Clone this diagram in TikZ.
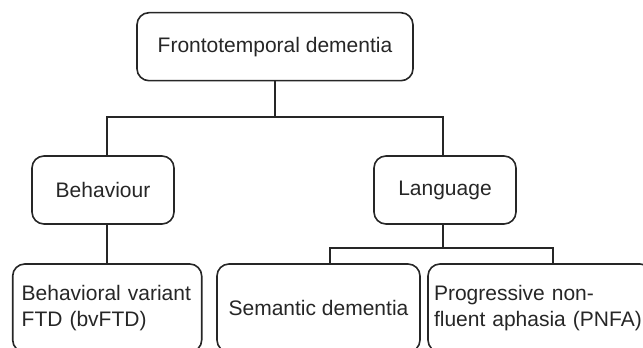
\documentclass[tikz,border=0pt]{standalone}
\usepackage{fontspec}
\setmainfont{Liberation Sans}
\begin{document}
\begin{tikzpicture}[x=1pt,y=1pt,
		bx/.style={draw=black!85,text=black!85,line width=1.6pt,rounded corners=12pt,inner sep=9pt,font=\fontsize{21}{26}\selectfont},
		ln/.style={draw=black!85,line width=1.6pt}]
	\useasboundingbox (0,0) rectangle (643,348);
	\clip (0,0) rectangle (643,348);
	\node(ftd)[bx,minimum width=276pt,minimum height=68pt] at (275,301.3) {Frontotemporal dementia};
	\node(beh)[bx,minimum width=142pt,minimum height=68pt] at (103,158) {Behaviour};
	\node(lang)[bx,minimum width=142pt,minimum height=68pt] at (445,158) {Language};
	\node(bvftd)[bx,text width=171pt,align=left,minimum height=88pt] at (107.2,40) {Behavioral variant\\FTD (bvFTD)};
	\node(sem)[bx,minimum width=203pt,minimum height=88pt] at (318.5,40) {Semantic dementia};
	\node(pnfa)[bx,inner xsep=6pt,text width=212pt,align=left,minimum height=88pt] at (540,40) {Progressive non-\\fluent aphasia (PNFA)};
	\coordinate (j1) at (275,231);
	\coordinate (j2) at (443,100);
	\coordinate (semtop) at (330,84);
	\coordinate (pnfatop) at (553,84);
	\draw[ln] (ftd.south) -- (j1);
	\draw[ln] (bvftd.north |- beh.north) |- (j1) -| (j2 |- lang.north);
	\draw[ln] (bvftd.north |- beh.south) -- (bvftd.north);
	\draw[ln] (j2 |- lang.south) -- (j2);
	\draw[ln] (semtop) |- (j2) -| (pnfatop);
\end{tikzpicture}
\end{document}
